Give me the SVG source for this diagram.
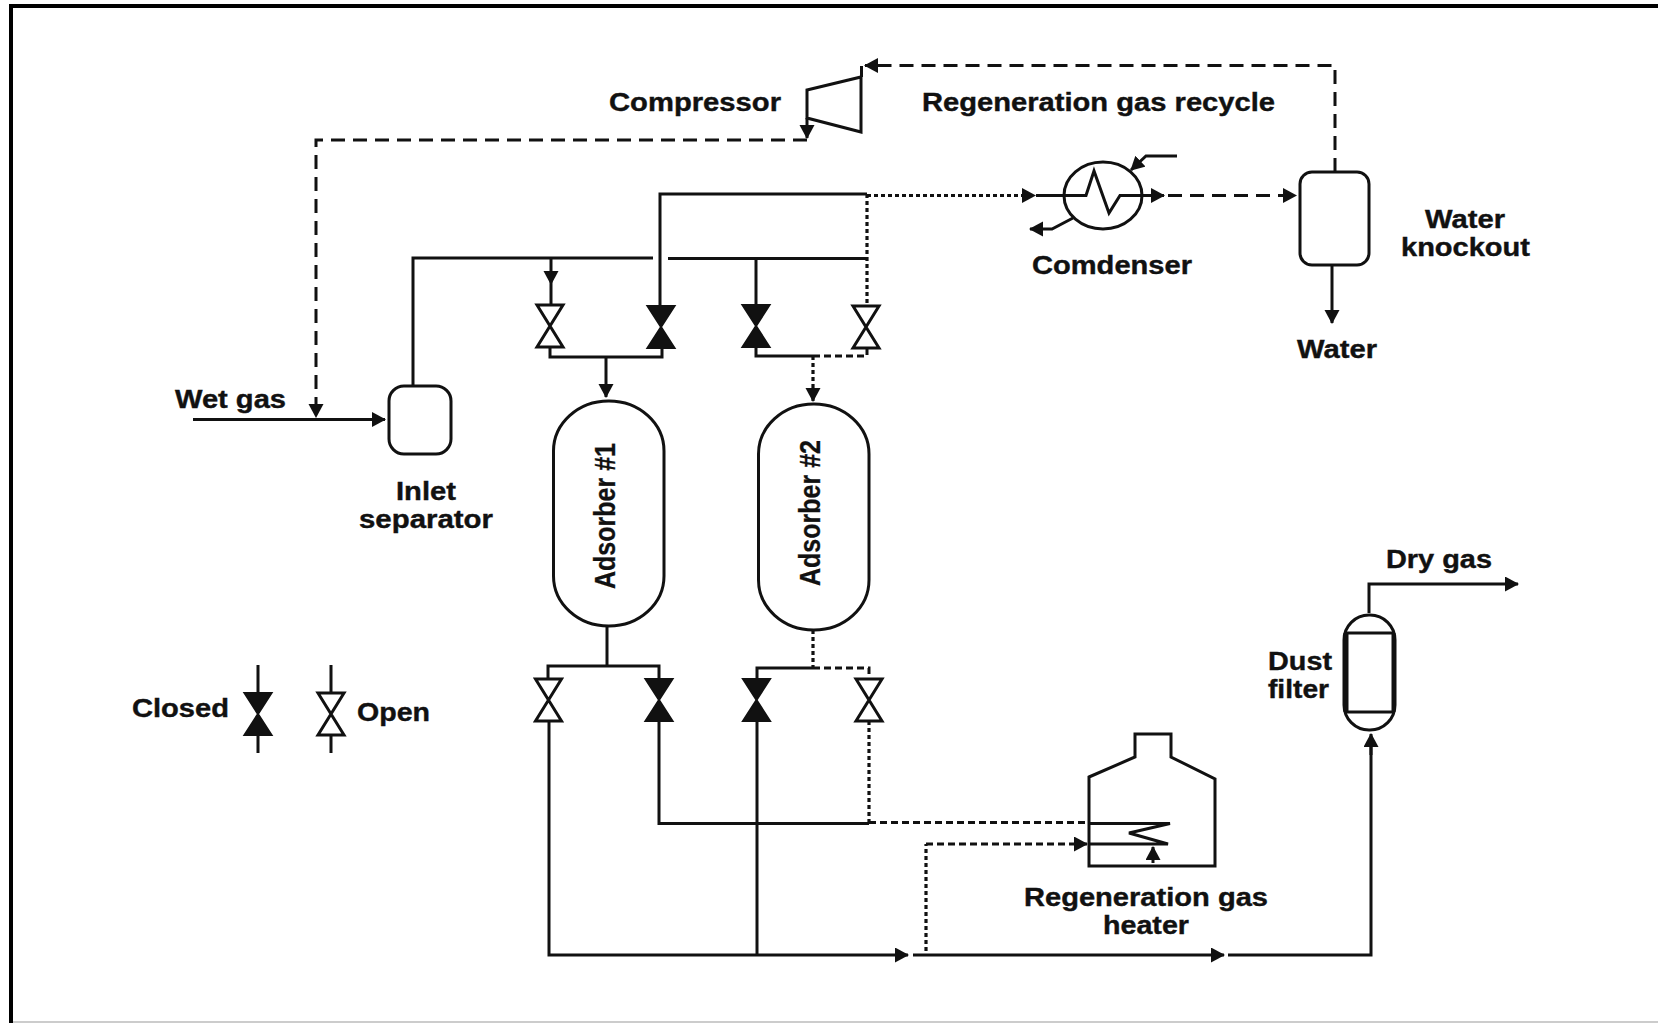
<svg xmlns="http://www.w3.org/2000/svg" xmlns:xlink="http://www.w3.org/1999/xlink" width="1658" height="1023" viewBox="0 0 1658 1023">
<style>
.t{font:700 26px "Liberation Sans",Arial,sans-serif;fill:#111;stroke:#111;stroke-width:.4}
.v{font:700 29px "Liberation Sans",Arial,sans-serif;fill:#111;stroke:#111;stroke-width:.3}
.s{fill:none;stroke:#111;stroke-width:3;stroke-linejoin:miter}
.da{stroke-dasharray:14 8}
.ds{stroke-dasharray:7 4}
.do{stroke-dasharray:4 3;stroke-width:3.200}
.sd{fill:#fff;stroke:#111;stroke-width:3}
.ar{marker-end:url(#a)}
</style>
<defs>
<marker id="a" markerUnits="userSpaceOnUse" markerWidth="16" markerHeight="17" refX="13" refY="7.500" orient="auto"><path d="M0,0 L14,7.500 L0,15 Z" fill="#111"/></marker>
<g id="vo"><path d="M-13,-21 L13,-21 L-13,21 L13,21 Z" fill="#fff" stroke="#111" stroke-width="3"/></g>
<g id="vc"><path d="M-13.500,-21 L13.500,-21 L-13.500,21 L13.500,21 Z" fill="#111" stroke="#111" stroke-width="2"/></g>
</defs>
<rect width="1658" height="1023" fill="#fff"/>
<g id="frame">
<path d="M1658,6 H11 V1023" fill="none" stroke="#000" stroke-width="4"/>
<path d="M13,1022 H1658" fill="none" stroke="#ccc" stroke-width="2"/>
</g>
<g id="connectors">
<path class="s ar" d="M193,419.500 H385"/>
<path class="s da ar" d="M807,140 H316 V417"/>
<path class="s" d="M413,386 V258 H653"/>
<path class="s" d="M668,258.500 H867"/>
<path class="s ar" d="M551,258 V284"/><path class="s" d="M551,284 V305"/>
<path class="s" d="M660,306 V194 H867"/>
<path class="s" d="M756,258 V305"/>
<path class="s do" d="M867,194 V306"/>
<path class="s do ar" d="M867,195.500 H1035"/>
<path class="s" d="M550,347 V357 H662 V349"/>
<path class="s ar" d="M606,357 V397"/>
<path class="s" d="M756,348 V356 H813"/>
<path class="s ds" d="M813,356 H867 V348"/>
<path class="s do ar" d="M813,356 V401"/>
<path class="s" d="M607,626 V666"/>
<path class="s" d="M548,679 V666 H659 V679"/>
<path class="s do" d="M813,630 V668"/>
<path class="s" d="M757,679 V668 H813"/>
<path class="s ds" d="M813,668 H869 V679"/>
<path class="s" d="M549,721 V955 H757"/>
<path class="s" d="M757,721 V955"/>
<path class="s ar" d="M757,955 H908"/>
<path class="s" d="M659,721 V823.500 H869"/>
<path class="s do" d="M869,721 V823"/>
<path class="s ds" d="M869,822.500 H1088"/>
<path class="s do" d="M926,951 V844"/>
<path class="s ds ar" d="M926,844 H1087"/>
<path class="s ar" d="M913,955 H1224"/>
<path class="s" d="M1228,955 H1371 V746"/>
<path class="s ar" d="M1371,755 V734"/>
<path class="s ar" d="M1369,613 V584 H1518"/>
<path class="s ar" d="M1152,195.500 H1164"/>
<path class="s da ar" d="M1168,195.500 H1296"/>
<path class="s da ar" d="M1335,172 V65.500 H865"/>
<path class="s ar" d="M1332,265 V323"/>
<path class="s ar" d="M807,118 V138"/>
<path class="s ar" d="M1177,156 H1146 L1131,170"/>
<path class="s ar" d="M1073,218 L1052,229 H1030"/>
<path class="s ar" d="M1153,863 V847"/>
</g>
<g id="compressor">
<path class="s" d="M807,90 L861,77 V132 L807,118 Z"/>
<path class="s" d="M861.500,66 V77"/>
<text class="t" x="609" y="110.500" textLength="172" lengthAdjust="spacingAndGlyphs">Compressor</text>
<text class="t" x="922" y="110.500" textLength="353" lengthAdjust="spacingAndGlyphs">Regeneration gas recycle</text>
</g>
<g id="condenser">
<ellipse class="s" cx="1103" cy="195.500" rx="39" ry="33.500"/>
<path class="s" d="M1036,195.500 H1086 L1094,171 L1109,213 L1120,195.500 H1152"/>
<text class="t" x="1032" y="273.500" textLength="160" lengthAdjust="spacingAndGlyphs">Comdenser</text>
</g>
<g id="water-knockout">
<rect class="sd" x="1300" y="172" width="69" height="93" rx="12"/>
<text class="t" x="1425" y="228" textLength="80" lengthAdjust="spacingAndGlyphs">Water</text>
<text class="t" x="1401" y="256" textLength="129" lengthAdjust="spacingAndGlyphs">knockout</text>
<text class="t" x="1297" y="358" textLength="80" lengthAdjust="spacingAndGlyphs">Water</text>
</g>
<g id="inlet-separator">
<rect class="sd" x="389" y="386" width="62" height="68" rx="15"/>
<text class="t" x="396" y="500" textLength="60" lengthAdjust="spacingAndGlyphs">Inlet</text>
<text class="t" x="359" y="528" textLength="134" lengthAdjust="spacingAndGlyphs">separator</text>
<text class="t" x="175" y="407.500" textLength="111" lengthAdjust="spacingAndGlyphs">Wet gas</text>
</g>
<g id="adsorber-1">
<rect class="sd" x="553.500" y="401" width="110.500" height="225" rx="55" ry="50"/>
<text class="v" transform="translate(615,589) rotate(-90)" textLength="146" lengthAdjust="spacingAndGlyphs">Adsorber #1</text>
</g>
<g id="adsorber-2">
<rect class="sd" x="758.500" y="404" width="110.500" height="226" rx="55" ry="50"/>
<text class="v" transform="translate(820,586) rotate(-90)" textLength="146" lengthAdjust="spacingAndGlyphs">Adsorber #2</text>
</g>
<g id="valves">
<use xlink:href="#vo" href="#vo" x="550" y="326"/>
<use xlink:href="#vc" href="#vc" x="661" y="327"/>
<use xlink:href="#vc" href="#vc" x="756" y="326"/>
<use xlink:href="#vo" href="#vo" x="866" y="327"/>
<use xlink:href="#vo" href="#vo" x="548.500" y="700"/>
<use xlink:href="#vc" href="#vc" x="659" y="700"/>
<use xlink:href="#vc" href="#vc" x="756.500" y="700"/>
<use xlink:href="#vo" href="#vo" x="869" y="700"/>
</g>
<g id="legend">
<path class="s" d="M258,665 V692 M258,736 V753 M331,665 V692 M331,736 V753"/>
<use xlink:href="#vc" href="#vc" x="258" y="714"/>
<use xlink:href="#vo" href="#vo" x="331" y="714"/>
<text class="t" x="132" y="716.500" textLength="97" lengthAdjust="spacingAndGlyphs">Closed</text>
<text class="t" x="357" y="721" textLength="73" lengthAdjust="spacingAndGlyphs">Open</text>
</g>
<g id="heater">
<path class="s" d="M1089,777 L1135,757 V734 H1171 V757 L1215,779 V866 H1089 Z"/>
<path class="s" d="M1089,823.500 H1170 L1129,833 L1168,844 H1089"/>
<text class="t" x="1024" y="905.500" textLength="244" lengthAdjust="spacingAndGlyphs">Regeneration gas</text>
<text class="t" x="1103" y="933.500" textLength="86" lengthAdjust="spacingAndGlyphs">heater</text>
</g>
<g id="dust-filter">
<rect class="sd" x="1344" y="615" width="51" height="115" rx="25" ry="25"/>
<path class="s" d="M1345,633 H1394 M1345,712 H1394"/>
<path class="s" d="M1346,633 V712" style="stroke-width:5"/>
<path class="s" d="M1393.500,633 V712" style="stroke-width:4"/>
<text class="t" x="1268" y="669.500" textLength="64" lengthAdjust="spacingAndGlyphs">Dust</text>
<text class="t" x="1268" y="697.500" textLength="61" lengthAdjust="spacingAndGlyphs">filter</text>
<text class="t" x="1386" y="567.500" textLength="106" lengthAdjust="spacingAndGlyphs">Dry gas</text>
</g>
</svg>
